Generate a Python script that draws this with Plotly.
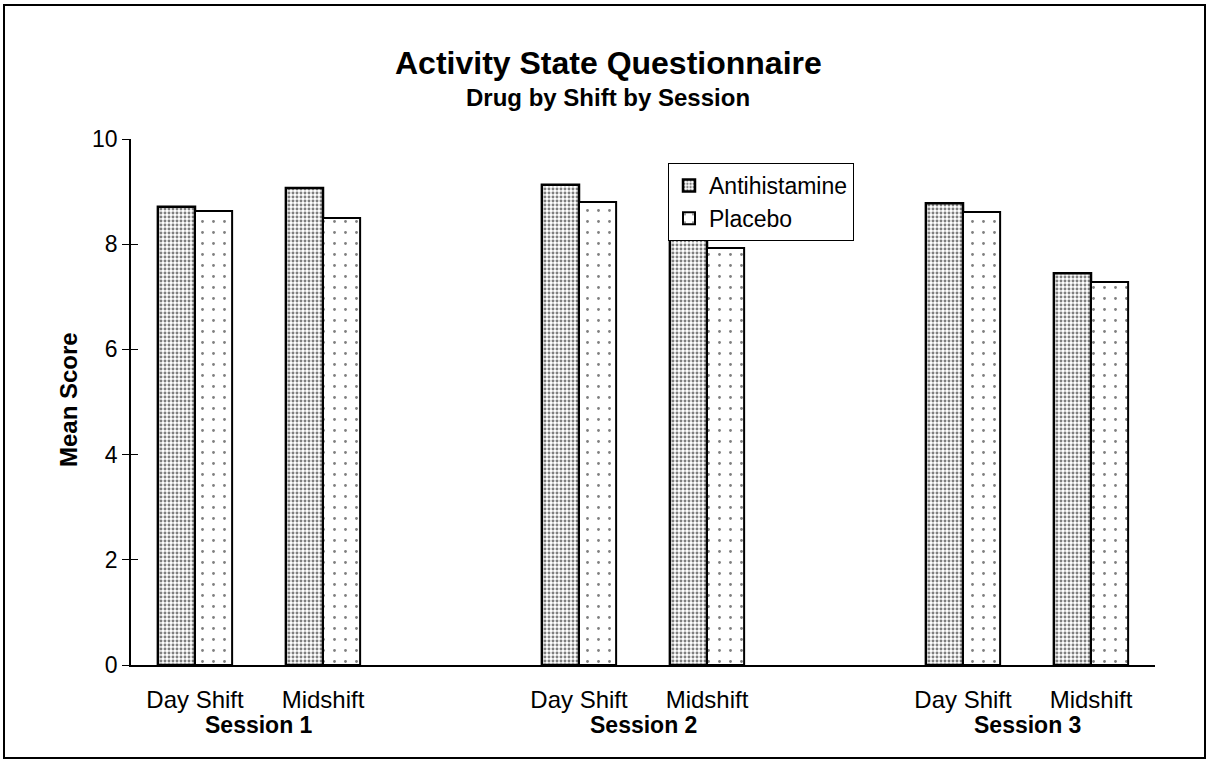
import plotly.graph_objects as go

# Mean scores per session and shift
sessions = ["Session 1", "Session 2", "Session 3"]
shifts = ["Day Shift", "Midshift"]
antihistamine = [8.71, 9.07, 9.13, 8.19, 8.78, 7.45]
placebo = [8.63, 8.50, 8.80, 7.93, 8.61, 7.28]
y_ticks = [0, 2, 4, 6, 8, 10]

# Each session takes three slots: two shifts and one empty spacer slot
slot = [3 * s + k for s in range(len(sessions)) for k in range(len(shifts))]
shift_labels = [sh for _ in sessions for sh in shifts]
session_centers = [3 * s + 0.5 for s in range(len(sessions))]

FONT = "Liberation Sans, Arial, Helvetica, sans-serif"

# plot area in pixels
L, R, T, B = 131, 1155, 139, 665
W, H = R - L, B - T


def px(x):
    return (x - L) / W


def py(y):
    return (B - y) / H


fig = go.Figure()
fig.add_trace(go.Bar(
    x=slot, y=antihistamine, name="Antihistamine",
    marker=dict(color="white",
                line=dict(color="black", width=2.5),
                pattern=dict(shape=".", size=4, solidity=0.42,
                             fgcolor="black", bgcolor="white")),
))
fig.add_trace(go.Bar(
    x=slot, y=placebo, name="Placebo",
    marker=dict(color="white",
                line=dict(color="black", width=2),
                pattern=dict(shape=".", size=11, solidity=0.05,
                             fgcolor="black", bgcolor="white")),
))
# companion axis that draws the inner half of the y tick marks
fig.add_trace(go.Scatter(x=[None], y=[None], yaxis="y2",
                         showlegend=False, hoverinfo="skip"))

fig.update_layout(
    width=1209, height=766,
    margin=dict(l=L, r=1209 - R, t=T, b=766 - B),
    paper_bgcolor="white", plot_bgcolor="white",
    font=dict(family=FONT, color="black", size=22),
    barmode="group", bargap=0.42, bargroupgap=0,
    showlegend=True,
    legend=dict(x=px(668), y=py(163), xanchor="left", yanchor="top",
                bordercolor="black", borderwidth=1, bgcolor="white",
                font=dict(size=23, family=FONT), traceorder="normal",
                itemwidth=30, tracegroupgap=0),
    xaxis=dict(range=[-0.5, 7.5], tickmode="array", tickvals=slot,
               ticktext=shift_labels, ticks="", showline=True,
               linecolor="black", linewidth=1.5, showgrid=False,
               zeroline=False, ticklabelstandoff=12,
               tickfont=dict(size=24, family=FONT)),
    yaxis=dict(range=[0, 10], tickmode="array", tickvals=y_ticks,
               ticks="outside", ticklen=7, tickcolor="black",
               tickwidth=1.2, showline=True, linecolor="black",
               linewidth=1.5, showgrid=False, zeroline=False,
               tickfont=dict(size=23, family=FONT)),
    yaxis2=dict(range=[0, 10], overlaying="y", anchor="x", side="left",
                tickmode="array", tickvals=y_ticks, ticks="inside",
                ticklen=7, tickcolor="black", tickwidth=1.2,
                showticklabels=False, showline=False, showgrid=False,
                zeroline=False),
)

# titles
fig.add_annotation(text="<b>Activity State Questionnaire</b>",
                   xref="paper", yref="paper", x=px(608), y=py(63),
                   xanchor="center", yanchor="middle", showarrow=False,
                   font=dict(family=FONT, size=32, color="black"))
fig.add_annotation(text="<b>Drug by Shift by Session</b>",
                   xref="paper", yref="paper", x=px(608), y=py(97),
                   xanchor="center", yanchor="middle", showarrow=False,
                   font=dict(family=FONT, size=24, color="black"))
fig.add_annotation(text="<b>Mean Score</b>", textangle=-90,
                   xref="paper", yref="paper", x=px(68), y=py(400),
                   xanchor="center", yanchor="middle", showarrow=False,
                   font=dict(family=FONT, size=24, color="black"))

for name, cx in zip(sessions, session_centers):
    fig.add_annotation(text=f"<b>{name}</b>", x=cx, xref="x",
                       y=py(725), yref="paper", yanchor="middle",
                       showarrow=False,
                       font=dict(family=FONT, size=23, color="black"))

# outer frame around the whole chart
fig.add_shape(type="rect", xref="paper", yref="paper",
              x0=px(4), x1=px(1205), y0=py(758), y1=py(5),
              line=dict(color="black", width=2), layer="below")

fig.write_html("out.html")
